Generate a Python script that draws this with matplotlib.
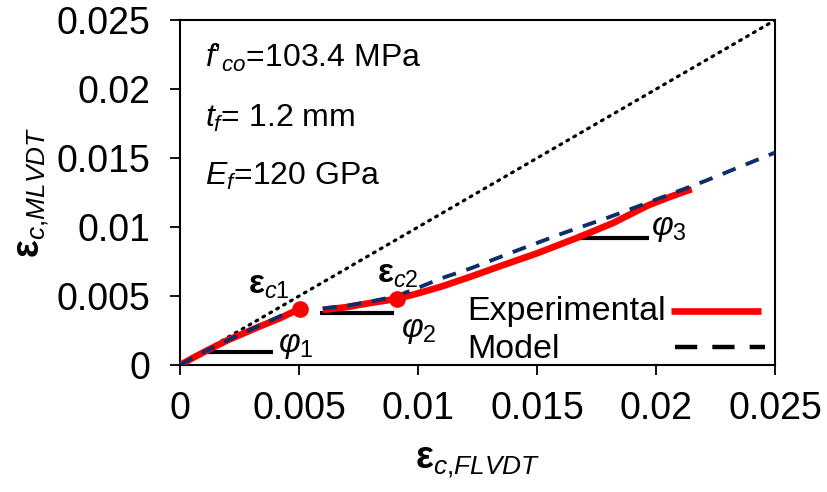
import matplotlib
matplotlib.use("Agg")
import matplotlib.pyplot as plt

plt.rcParams['font.family'] = ['Liberation Sans', 'DejaVu Sans']
plt.rcParams['mathtext.fontset'] = 'custom'
plt.rcParams['mathtext.rm'] = 'Liberation Sans'
plt.rcParams['mathtext.it'] = 'Liberation Sans:italic'
plt.rcParams['mathtext.bf'] = 'Liberation Sans:bold'

# experimental curve, two branches split at eps_c1
exp1_x = [0, 0.0005, 0.00117, 0.002, 0.00328, 0.0042, 0.00503]
exp1_y = [0, 0.00048, 0.00109, 0.0018, 0.00275, 0.0034, 0.00408]
exp2_x = [0.0060, 0.0070, 0.0080, 0.0091, 0.0100, 0.0110, 0.0122, 0.0135,
          0.0150, 0.01665, 0.0175, 0.0182, 0.0190, 0.0197, 0.0206, 0.0215]
exp2_y = [0.0040, 0.0042, 0.0045, 0.0048, 0.0052, 0.0057, 0.0064, 0.0072,
          0.0081, 0.0092, 0.0098, 0.0103, 0.0110, 0.0116, 0.0122, 0.01275]

# model
mod1_x = [0, 0.001, 0.002, 0.003, 0.0044]
mod1_y = [0, 0.00095, 0.0018, 0.0026, 0.0037]
mod2_x = [0.0060, 0.0070, 0.0080, 0.0091, 0.0100, 0.0110, 0.0122, 0.0140,
          0.0160, 0.0180, 0.0197, 0.0220, 0.0250]
mod2_y = [0.0041, 0.0043, 0.0046, 0.0050, 0.0056, 0.0063, 0.0070, 0.0082,
          0.0095, 0.0107, 0.0118, 0.0133, 0.0154]

# transition points
ec_x = [0.00503, 0.0091]
ec_y = [0.00408, 0.0048]

# slope reference lines (x0, x1, y)
phi_lines = [(0.00092, 0.0039, 0.00094), (0.0059, 0.0090, 0.0038), (0.01665, 0.0197, 0.0092)]
phi_labels = [r'$\mathit{φ}_{\mathit{1}}$', r'$\mathit{φ}_{\mathit{2}}$', r'$\mathit{φ}_{\mathit{3}}$']
phi_pos = [(0.0041, 0.00145), (0.0093, 0.0025), (0.0198, 0.0099)]

ticks = [0, 0.005, 0.01, 0.015, 0.02, 0.025]
tick_labels = ['0', '0.005', '0.01', '0.015', '0.02', '0.025']

fig = plt.figure(figsize=(8.28, 4.92), dpi=100)
ax = fig.add_axes([0.2174, 0.258, 0.7186, 0.701])

red = '#ff0000'
navy = '#0f2d68'

ax.plot([0, 0.025], [0, 0.025], color='black', lw=2.3, linestyle=(0, (0.6, 1.9)),
        dash_capstyle='round', zorder=2)
ax.plot(exp1_x, exp1_y, color=red, lw=4.8, solid_capstyle='butt', zorder=3)
ax.plot(exp2_x, exp2_y, color=red, lw=4.8, solid_capstyle='butt', zorder=3)
ax.plot(mod1_x, mod1_y, color=navy, lw=2.8, linestyle=(0, (3.6, 2.8)), zorder=4)
ax.plot(mod2_x, mod2_y, color=navy, lw=2.8, linestyle=(0, (3.6, 2.8)), zorder=4)
ax.plot(ec_x, ec_y, 'o', color=red, markersize=11, zorder=5)

for (x0, x1, y), lab, (tx, ty) in zip(phi_lines, phi_labels, phi_pos):
    ax.plot([x0, x1], [y, y], color='black', lw=3, solid_capstyle='butt', zorder=2)
    ax.text(tx, ty, lab, fontsize=24, ha='left', va='center')

ax.text(0.00285, 0.0052, r'$\mathbf{ε}_{\mathit{c1}}$', fontsize=24, ha='left', va='baseline')
ax.text(0.00826, 0.0060, r'$\mathbf{ε}_{\mathit{c2}}$', fontsize=24, ha='left', va='baseline')

ax.text(0.00105, 0.0216, r"$\mathit{f’}_{\mathit{co}}$=103.4 MPa", fontsize=23, va='baseline')
ax.text(0.00105, 0.01725, r"$\mathit{t}_{\mathit{f}}$= 1.2 mm", fontsize=23, va='baseline')
ax.text(0.00105, 0.01304, r"$\mathit{E}_{\mathit{f}}$=120 GPa", fontsize=23, va='baseline')

# key: labels on the left, samples on the right
tr = ax.transAxes
ax.text(0.482, 0.154, 'Experimental', transform=tr, fontsize=24.5, va='center', ha='left')
ax.text(0.482, 0.046, 'Model', transform=tr, fontsize=24.5, va='center', ha='left')
ax.plot([0.826, 0.976], [0.157, 0.157], transform=tr, color=red, lw=4.8,
        solid_capstyle='butt')
ax.plot([0.832, 0.983], [0.052, 0.052], transform=tr, color='black', lw=3.2,
        linestyle=(0, (5.0, 3.4)))

ax.set_xlim(0, 0.025)
ax.set_ylim(0, 0.025)
ax.set_xticks(ticks)
ax.set_xticklabels(tick_labels)
ax.set_yticks(ticks)
ax.set_yticklabels(tick_labels)
ax.tick_params(labelsize=27, length=7, width=1.3, direction='out')
ax.tick_params(axis='y', pad=14)
ax.tick_params(axis='x', pad=12)
for s in ax.spines.values():
    s.set_linewidth(1.5)

ax.set_xlabel(r'$\mathbf{ε}_{\mathit{c{,}FLVDT}}$', fontsize=27, labelpad=12)
ax.set_ylabel(r'$\mathbf{ε}_{\mathit{c{,}MLVDT}}$', fontsize=27, labelpad=4)

fig.savefig('out.png', dpi=100)
